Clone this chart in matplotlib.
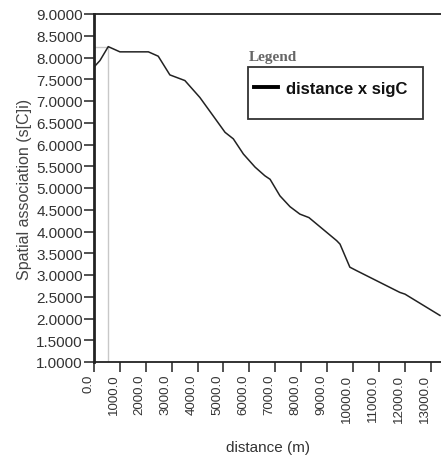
import numpy as np
import matplotlib
matplotlib.use("Agg")
import matplotlib.pyplot as plt
import matplotlib.transforms as mtransforms
from matplotlib.patches import Rectangle

plt.rcParams['font.family'] = ['Liberation Sans', 'DejaVu Sans']

# data
distance = [0, 230, 550, 1000, 2100, 2480, 2930, 3510, 4090, 4600, 5060, 5380,
            5770, 6220, 6600, 6800, 7180, 7570, 7950, 8300, 9370, 9500, 9880,
            10140, 11810, 12010, 13360]
sig_c = [7.78, 7.93, 8.25, 8.13, 8.13, 8.03, 7.60, 7.47, 7.08, 6.66, 6.28, 6.13,
         5.78, 5.48, 5.28, 5.20, 4.82, 4.57, 4.40, 4.32, 3.79, 3.71, 3.18,
         3.10, 2.60, 2.56, 2.07]
peak_x, peak_y = 550, 8.25
x_ticks = list(range(0, 14000, 1000))
x_labels = [f"{v}.0" for v in x_ticks]
y_ticks = np.arange(1.0, 9.01, 0.5)
y_labels = [f"{v:.4f}" for v in y_ticks]

fig = plt.figure(figsize=(4.41, 4.56), dpi=100)
ax = fig.add_axes([94/441, 1 - 363/456, 1 - 94/441, (363 - 15)/456])

txt = '#333333'

# crosshair at the peak
ax.plot([peak_x, peak_x], [1.0, peak_y], color='#c8c8c8', lw=1.0, zorder=1)
ax.plot([0, peak_x], [peak_y, peak_y], color='#c8c8c8', lw=1.0, zorder=1)

line, = ax.plot(distance, sig_c, color='#222222', lw=1.1, label='distance x sigC', zorder=3)

ax.set_xlim(0, 13400)
ax.set_ylim(1.0, 9.0)

ax.set_yticks(y_ticks)
ax.set_yticklabels(y_labels, fontsize=11, color=txt)
ax.set_xticks(x_ticks)
ax.set_xticklabels(x_labels, fontsize=9.5, color=txt, rotation=90, va='top')
ax.tick_params(axis='y', direction='out', length=7, width=1.2, pad=1, colors=txt)
ax.tick_params(axis='x', direction='out', length=7, width=1.2, pad=1.5, colors=txt)

shift = mtransforms.ScaledTranslation(-6/100, 0, fig.dpi_scale_trans)
for lab in ax.get_xticklabels():
    lab.set_transform(lab.get_transform() + shift)

ax.spines['right'].set_visible(False)
ax.spines['left'].set_linewidth(2.0)
ax.spines['bottom'].set_linewidth(1.3)
ax.spines['top'].set_linewidth(1.3)
for s in ax.spines.values():
    s.set_color('#222222')

ax.set_ylabel('Spatial association (s[C]i)', fontsize=11.5, color='#444444', labelpad=3)
ax.set_xlabel('distance (m)', fontsize=11, color=txt, labelpad=13)

# legend box
fig.patches.append(Rectangle((248/441, 1 - 120/456), (423 - 248)/441, (120 - 68)/456,
                             transform=fig.transFigure, fill=False,
                             edgecolor='#333333', lw=1.3))
fig.text(249/441, 1 - 61/456, 'Legend', family=['Liberation Serif'], fontweight='bold',
         fontsize=11, color='#666666', ha='left', va='baseline')
leg = ax.legend(handles=[line], loc='upper left', frameon=False,
                bbox_to_anchor=(254/441, 1 - 82/456), bbox_transform=fig.transFigure,
                borderpad=0, borderaxespad=0, handlelength=1.45, handletextpad=0.5,
                prop={'weight': 'bold', 'size': 12})
leg.legend_handles[0].set_linewidth(2.8)
leg.legend_handles[0].set_color('black')
leg.get_texts()[0].set_color('#111111')

fig.savefig('out.png', dpi=100)
